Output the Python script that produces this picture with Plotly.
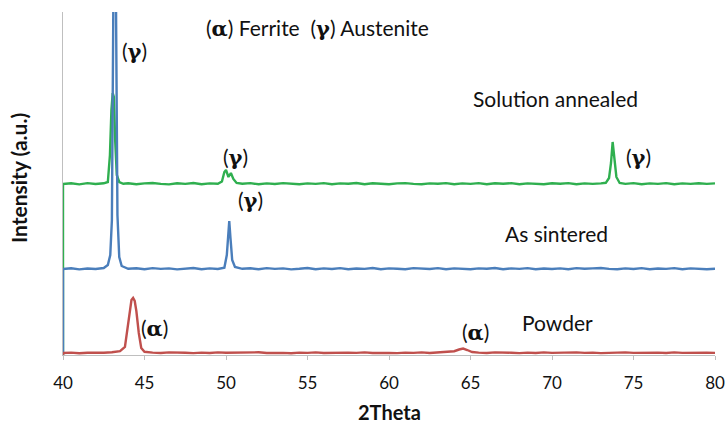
import plotly.graph_objects as go

# ---------------- data (intensity in arbitrary units) ----------------
powder_x = [40, 40, 40.5, 41, 41.5, 42, 42.5, 43, 43.5, 43.8, 43.95, 44.1, 44.2, 44.3, 44.4, 44.5, 44.65, 44.8, 45.0,
            45.5, 46, 46.5, 47, 47.5, 48, 48.5, 49, 49.5, 50, 50.5, 51, 51.5, 52, 52.5, 53, 53.5, 54, 54.5,
            55, 55.5, 56, 56.5, 57, 57.5, 58, 58.5, 59, 59.5, 60, 60.5, 61, 61.5, 62, 62.5, 63, 63.5,
            64.0, 64.3, 64.55, 64.8, 65.1, 65.5, 66, 66.5, 67, 67.5, 68, 68.5, 69, 69.5, 70, 70.5, 71,
            71.5, 72, 72.5, 73, 73.5, 74, 74.5, 75, 75.5, 76, 76.5, 77, 77.5, 78, 78.5, 79, 79.5, 80]
powder_y = [0, 2, 2.4, 1.8, 2.3, 2.0, 2.2, 2.8, 3.8, 8, 25, 47, 55, 57, 54, 44, 22, 7, 3.2,
            2.4, 2.0, 2.6, 2.1, 2.3, 1.9, 2.4, 2.0, 2.6, 2.2, 2.4, 1.9, 2.1, 2.7, 2.0, 2.3, 2.1, 1.8, 2.4,
            2.1, 2.6, 2.0, 2.3, 1.9, 2.4, 2.1, 2.6, 2.0, 2.3, 2.1, 1.9, 2.4, 2.1, 2.6, 2.0, 2.4, 2.8,
            3.8, 5.5, 6.5, 5.0, 3.0, 2.4, 2.0, 2.6, 2.1, 2.3, 1.9, 2.4, 2.0, 2.6, 2.1, 2.3, 2.0,
            2.6, 2.1, 2.4, 1.9, 2.3, 2.0, 2.6, 2.1, 2.3, 1.9, 2.4, 2.0, 2.6, 2.1, 2.3, 2.0, 2.4, 2.1]

sintered_x = [40, 40, 40.5, 41, 41.5, 42, 42.5, 42.75, 42.9, 43.0, 43.08, 43.17, 43.26, 43.34, 43.45, 43.6,
              44, 44.5, 45, 45.5, 46, 46.5, 47, 47.5, 48, 48.5, 49, 49.5, 49.9, 50.05, 50.15, 50.2, 50.27,
              50.38, 50.55, 51, 51.5, 52, 52.5, 53, 53.5, 54, 54.5, 55, 55.5, 56, 56.5, 57, 57.5, 58,
              58.5, 59, 59.5, 60, 60.5, 61, 61.5, 62, 62.5, 63, 63.5, 64, 64.5, 65, 65.5, 66, 66.5, 67,
              67.5, 68, 68.5, 69, 69.5, 70, 70.5, 71, 71.5, 72, 72.5, 73, 73.5, 74, 74.5, 75, 75.5, 76,
              76.5, 77, 77.5, 78, 78.5, 79, 79.5, 80]
sintered_y = [0, 86, 86.8, 85.6, 86.5, 86.0, 87.0, 90, 100, 135, 330, 600, 330, 140, 98, 89,
              86.2, 86.8, 85.7, 86.9, 86.1, 86.6, 85.6, 86.2, 87.0, 85.8, 86.6, 86.0, 87.2, 100, 125, 134, 118,
              95, 88, 86.2, 86.8, 85.7, 86.9, 86.1, 86.6, 85.6, 86.2, 87.0, 85.8, 86.6, 86.0, 86.9, 85.7, 86.5,
              86.1, 87.0, 85.8, 86.6, 86.2, 85.7, 86.9, 86.5, 86.0, 86.9, 85.7, 86.6, 86.1, 85.8, 86.6, 86.2, 87.0, 85.7,
              86.6, 86.1, 86.9, 85.8, 86.5, 86.0, 86.6, 85.7, 86.9, 86.2, 86.6, 87.0, 86.1, 85.7, 86.6, 86.0, 86.9, 85.8,
              86.5, 86.1, 86.9, 85.7, 86.6, 86.0, 85.8, 86.2]

annealed_x = [40, 40, 40.5, 41, 41.5, 42, 42.5, 42.75, 42.88, 42.97, 43.05, 43.12, 43.2, 43.3, 43.45,
              43.7, 44, 44.5, 45, 45.5, 46, 46.5, 47, 47.5, 48, 48.5, 49, 49.5, 49.75, 49.9, 50.0,
              50.15, 50.3, 50.45, 50.65, 51, 51.5, 52, 52.5, 53, 53.5, 54, 54.5, 55, 55.5, 56, 56.5,
              57, 57.5, 58, 58.5, 59, 59.5, 60, 60.5, 61, 61.5, 62, 62.5, 63, 63.5, 64, 64.5, 65, 65.5,
              66, 66.5, 67, 67.5, 68, 68.5, 69, 69.5, 70, 70.5, 71, 71.5, 72, 72.5, 73, 73.3, 73.5,
              73.62, 73.72, 73.82, 73.95, 74.15, 74.5, 75, 75.5, 76, 76.5, 77, 77.5, 78, 78.5, 79,
              79.5, 80]
annealed_y = [0, 171, 171.8, 170.6, 171.9, 171.0, 171.7, 173, 200, 245, 262, 258, 215, 180, 173,
              171.2, 171.8, 170.7, 171.6, 172.0, 171.1, 170.6, 171.7, 171.1, 172.0, 170.8, 171.6, 171.2, 173.5, 183, 185,
              178, 182, 176, 172, 171.2, 171.9, 170.7, 171.6, 171.0, 171.9, 171.2, 170.7, 171.6, 171.1, 171.9, 170.8,
              171.6, 171.2, 172.0, 170.8, 171.7, 171.1, 170.7, 171.6, 171.9, 171.1, 170.7, 171.6, 171.2, 171.9, 170.8, 171.6, 171.1, 171.9,
              170.8, 171.7, 171.2, 171.9, 170.7, 171.6, 171.1, 170.8, 171.7, 171.2, 171.9, 170.8, 171.6, 171.1, 171.6, 172.2, 177,
              192, 213, 198, 178, 172, 171.1, 171.9, 170.8, 171.6, 171.1, 171.9, 170.8, 171.6, 171.1, 171.7,
              171.1, 171.6]

x_ticks = [40, 45, 50, 55, 60, 65, 70, 75, 80]

GREEN = "#2FAF4F"
BLUE = "#4A7EBB"
RED = "#C0504D"

fig = go.Figure()
fig.add_trace(go.Scatter(x=annealed_x, y=annealed_y, mode="lines", name="Solution annealed",
                         line=dict(color=GREEN, width=2.4)))
fig.add_trace(go.Scatter(x=sintered_x, y=sintered_y, mode="lines", name="As sintered",
                         line=dict(color=BLUE, width=2.4)))
fig.add_trace(go.Scatter(x=powder_x, y=powder_y, mode="lines", name="Powder",
                         line=dict(color=RED, width=2.4)))

FONT = "Lato"
A = "(<span style='font-family:DejaVu Serif'><b>α</b></span>)"
G = "(<span style='font-family:DejaVu Serif'><b>γ</b></span>)"

annots = [
    (A + " Ferrite  " + G + " Austenite", 0.391, 0.953),
    (G, 0.110, 0.886),
    ("Solution annealed", 0.756, 0.749),
    (G, 0.264, 0.577),
    (G, 0.882, 0.577),
    (G, 0.287, 0.452),
    ("As sintered", 0.757, 0.353),
    (A, 0.141, 0.079),
    (A, 0.633, 0.067),
    ("Powder", 0.758, 0.096),
]
for text, xx, yy in annots:
    fig.add_annotation(text=text, x=xx, y=yy, xref="paper", yref="paper",
                       xanchor="center", yanchor="middle",
                       showarrow=False, font=dict(family=FONT, size=21, color="#111111"))

# axis titles
fig.add_annotation(text="<b>2Theta</b>", x=0.5, y=-0.166, xref="paper", yref="paper",
                   xanchor="center", yanchor="middle", showarrow=False,
                   font=dict(family=FONT, size=20, color="#111111"))
fig.add_annotation(text="<b>Intensity (a.u.)</b>", x=-0.069, y=0.516, xref="paper", yref="paper",
                   xanchor="center", yanchor="middle", textangle=-90, showarrow=False,
                   font=dict(family=FONT, size=21, color="#111111"))

fig.update_layout(
    width=728, height=423,
    margin=dict(l=63, r=13, t=12, b=68),
    paper_bgcolor="white", plot_bgcolor="white",
    showlegend=False,
    font=dict(family=FONT, size=16, color="#111111"),
    xaxis=dict(range=[40, 80], tickvals=x_ticks, ticktext=[str(t) for t in x_ticks],
               showgrid=False, zeroline=False, showline=True, linecolor="#BFBFBF",
               ticks="outside", ticklen=4, tickcolor="#BFBFBF", automargin=False,
               ticklabelstandoff=9,
               tickfont=dict(family=FONT, size=17, color="#111111")),
    yaxis=dict(range=[0, 343], showticklabels=False, showgrid=False, zeroline=False,
               showline=True, linecolor="#BFBFBF", ticks="", automargin=False),
)

fig.write_html("out.html", config={"displayModeBar": False},
               post_script="document.body.style.margin='0';")
